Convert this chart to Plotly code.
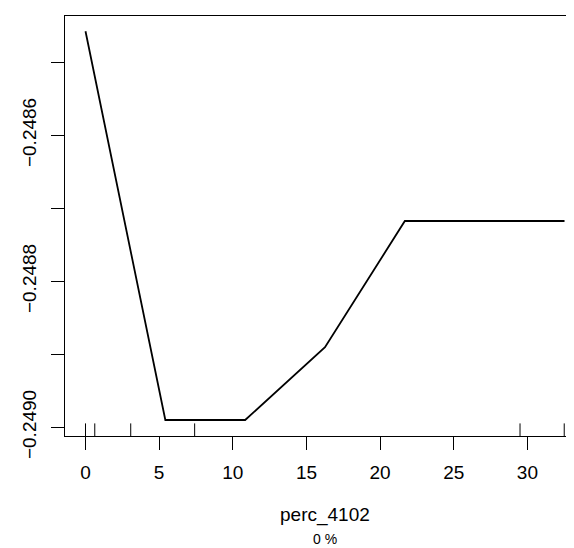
import plotly.graph_objects as go

# Partial dependence data
x_vals = [0.0, 5.42, 10.84, 16.26, 21.68, 27.10, 32.52]
y_vals = [-0.2484575, -0.2489900, -0.2489900, -0.2488904, -0.2487174, -0.2487174, -0.2487174]

# Rug (decile) positions
rug_x = [0.0, 0.63, 3.07, 7.41, 29.5, 32.5]

x_ticks = [0, 5, 10, 15, 20, 25, 30]
y_ticks = [-0.2490, -0.2489, -0.2488, -0.2487, -0.2486, -0.2485]
y_ticklabels = ["\u22120.2490", "", "\u22120.2488", "", "\u22120.2486", ""]

x_title = "perc_4102"
sub_title = "0 %"

x_range = [-1.392, 33.707]
y_range = [-0.24901192, -0.24843658]

font_family = "Liberation Sans, Arial, Helvetica, sans-serif"

fig = go.Figure()

fig.add_trace(go.Scatter(
    x=x_vals, y=y_vals, mode="lines",
    line=dict(color="black", width=1.8),
    hoverinfo="skip", showlegend=False,
))

# rug ticks drawn as short vertical segments from the bottom of the plot
rug_h = 0.03 * (y_range[1] - y_range[0])
rx, ry = [], []
for v in rug_x:
    rx += [v, v, None]
    ry += [y_range[0], y_range[0] + rug_h, None]
fig.add_trace(go.Scatter(
    x=rx, y=ry, mode="lines",
    line=dict(color="black", width=1),
    hoverinfo="skip", showlegend=False,
))

fig.update_layout(
    width=574, height=548,
    margin=dict(l=57, r=0, t=8, b=120, autoexpand=False),
    paper_bgcolor="white", plot_bgcolor="white",
    font=dict(family=font_family, size=19, color="black"),
    showlegend=False,
    xaxis=dict(
        range=x_range, tickvals=x_ticks, automargin=False,
        ticks="outside", ticklen=13, tickwidth=1, tickcolor="black",
        showline=True, linecolor="black", linewidth=1, mirror=True,
        showgrid=False, zeroline=False,
        tickfont=dict(size=19), ticklabelstandoff=6,
    ),
    yaxis=dict(
        range=y_range, tickvals=y_ticks, ticktext=y_ticklabels, automargin=False,
        ticks="outside", ticklen=13, tickwidth=1, tickcolor="black",
        showline=True, linecolor="black", linewidth=1,
        showgrid=False, zeroline=False, tickangle=-90,
        tickfont=dict(size=19), ticklabelstandoff=7,
    ),
    annotations=[
        dict(text=x_title, xref="paper", yref="paper", x=(316.5 - 57) / 517, y=1 - (507 - 8) / 420,
             xanchor="center", yanchor="middle", showarrow=False, font=dict(size=19)),
        dict(text=sub_title, xref="paper", yref="paper", x=(316.5 - 57) / 517, y=1 - (531 - 8) / 420,
             xanchor="center", yanchor="middle", showarrow=False, font=dict(size=14)),
    ],
)

fig.write_html("out.html")
